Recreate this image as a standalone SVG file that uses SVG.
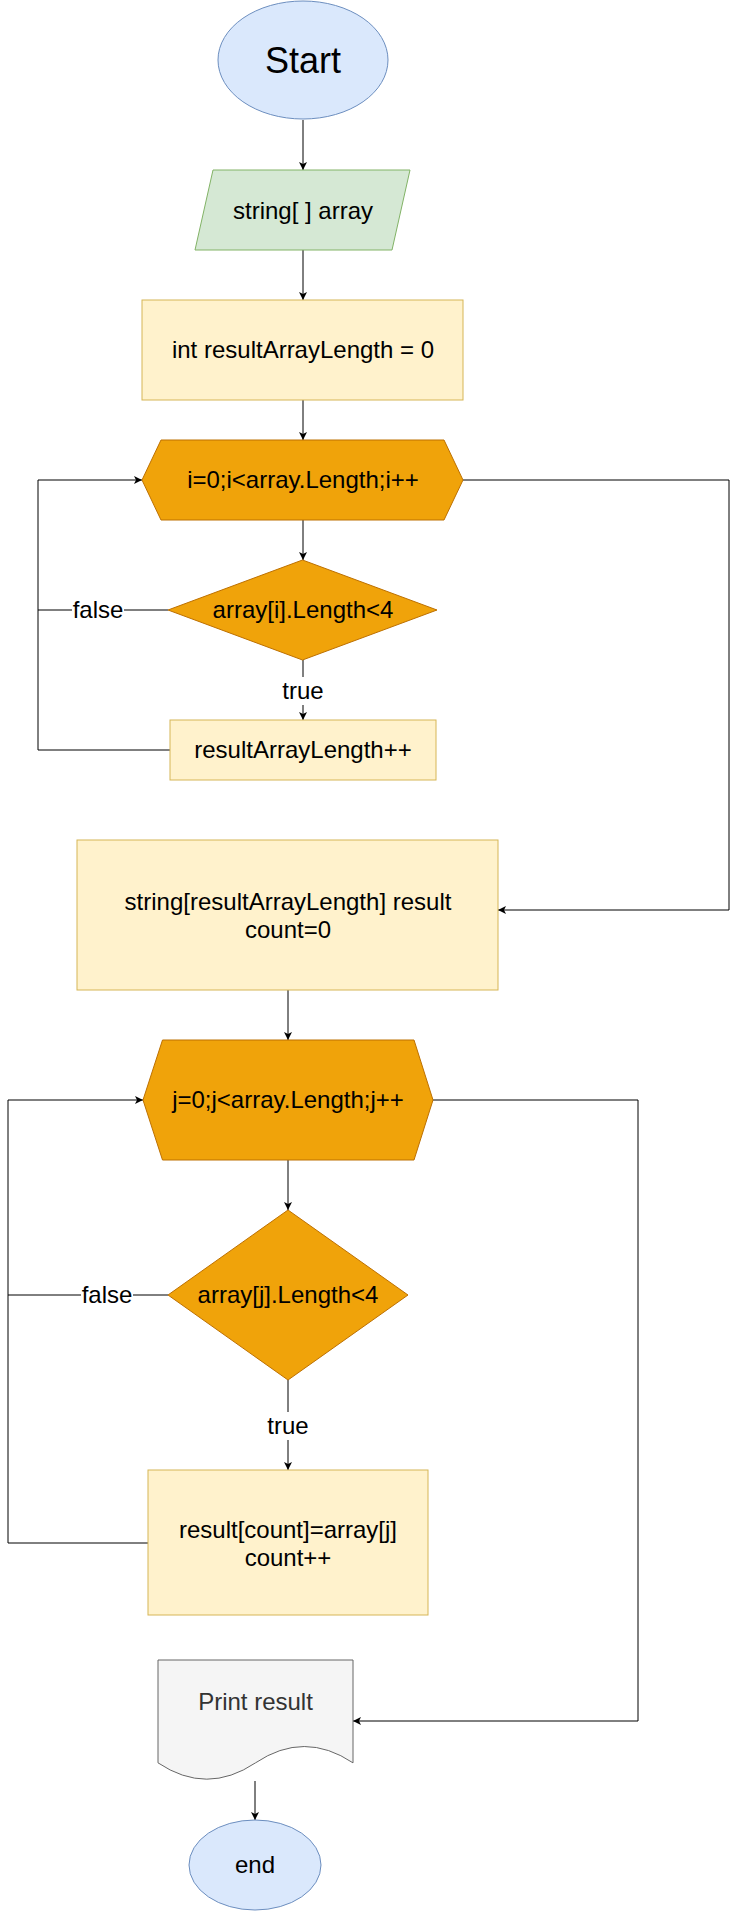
<svg xmlns="http://www.w3.org/2000/svg" width="737" height="1911" viewBox="0 0 737 1911">
<defs>
<style>
text{font-family:"Liberation Sans",Arial,sans-serif;font-size:24px;fill:#000;text-anchor:middle}
.term{fill:#dae8fc;stroke:#6c8ebf;stroke-width:1}
.io{fill:#d5e8d4;stroke:#82b366;stroke-width:1}
.proc{fill:#fff2cc;stroke:#d6b656;stroke-width:1}
.dec{fill:#f0a30a;stroke:#bd7000;stroke-width:1}
.doc{fill:#f5f5f5;stroke:#666666;stroke-width:1}
.edge{fill:none;stroke:#000;stroke-width:1}
.lblbg{fill:#fff}
</style>
<marker id="arr" markerWidth="10" markerHeight="10" refX="8" refY="4" orient="auto" markerUnits="userSpaceOnUse">
<path d="M0,0 L8,4 L0,8 L2,4 Z" fill="#000"/>
</marker>
</defs>
<rect width="737" height="1911" fill="#fff"/>
<g id="connectors">
<path class="edge" d="M303,120 V170" marker-end="url(#arr)"/>
<path class="edge" d="M303,250 V300" marker-end="url(#arr)"/>
<path class="edge" d="M303,400 V440" marker-end="url(#arr)"/>
<path class="edge" d="M303,520 V560" marker-end="url(#arr)"/>
<path class="edge" d="M303,660 V720" marker-end="url(#arr)"/>
<path class="edge" d="M168,610 H38"/>
<path class="edge" d="M170,750 H38 V480 H142" marker-end="url(#arr)"/>
<path class="edge" d="M463,480 H729 V910 H498" marker-end="url(#arr)"/>
<path class="edge" d="M288,990 V1040" marker-end="url(#arr)"/>
<path class="edge" d="M288,1160 V1210" marker-end="url(#arr)"/>
<path class="edge" d="M288,1380 V1470" marker-end="url(#arr)"/>
<path class="edge" d="M168,1295 H8"/>
<path class="edge" d="M148,1543 H8 V1100 H143" marker-end="url(#arr)"/>
<path class="edge" d="M433,1100 H638 V1721 H353" marker-end="url(#arr)"/>
<path class="edge" d="M255,1781 V1820" marker-end="url(#arr)"/>
<rect class="lblbg" x="72" y="597" width="52" height="26"/>
<text x="98" y="618">false</text>
<rect class="lblbg" x="282" y="677" width="42" height="28"/>
<text x="303" y="699">true</text>
<rect class="lblbg" x="81" y="1282" width="52" height="26"/>
<text x="107" y="1303">false</text>
<rect class="lblbg" x="267" y="1412" width="42" height="28"/>
<text x="288" y="1434">true</text>
</g>
<g id="start">
<ellipse class="term" cx="303" cy="60" rx="85" ry="59"/>
<text x="303" y="73" style="font-size:36px">Start</text>
</g>
<g id="input-array">
<polygon class="io" points="213,170 410,170 392,250 195,250"/>
<text x="303" y="219">string[ ] array</text>
</g>
<g id="init-length">
<rect class="proc" x="142" y="300" width="321" height="100"/>
<text x="303" y="358">int resultArrayLength = 0</text>
</g>
<g id="loop-i">
<polygon class="dec" points="142,480 161,440 444,440 463,480 444,520 161,520"/>
<text x="303" y="488">i=0;i&lt;array.Length;i++</text>
</g>
<g id="cond-i">
<polygon class="dec" points="302.5,560 437,610 302.5,660 168,610"/>
<text x="303" y="618">array[i].Length&lt;4</text>
</g>
<g id="inc-length">
<rect class="proc" x="170" y="720" width="266" height="60"/>
<text x="303" y="758">resultArrayLength++</text>
</g>
<g id="init-result">
<rect class="proc" x="77" y="840" width="421" height="150"/>
<text x="288" y="910">string[resultArrayLength] result</text>
<text x="288" y="938">count=0</text>
</g>
<g id="loop-j">
<polygon class="dec" points="143,1100 162.5,1040 414,1040 433,1100 414,1160 162.5,1160"/>
<text x="288" y="1108">j=0;j&lt;array.Length;j++</text>
</g>
<g id="cond-j">
<polygon class="dec" points="288,1210 408,1295 288,1380 168,1295"/>
<text x="288" y="1303">array[j].Length&lt;4</text>
</g>
<g id="assign">
<rect class="proc" x="148" y="1470" width="280" height="145"/>
<text x="288" y="1538">result[count]=array[j]</text>
<text x="288" y="1566">count++</text>
</g>
<g id="print">
<path class="doc" d="M158,1660 H353 V1762.85 Q304.25,1730.2 255.5,1762.85 Q206.75,1795.5 158,1762.85 Z"/>
<text x="255.5" y="1710" style="fill:#333333">Print result</text>
</g>
<g id="end">
<ellipse class="term" cx="255" cy="1865" rx="66" ry="45"/>
<text x="255" y="1873">end</text>
</g>
</svg>
